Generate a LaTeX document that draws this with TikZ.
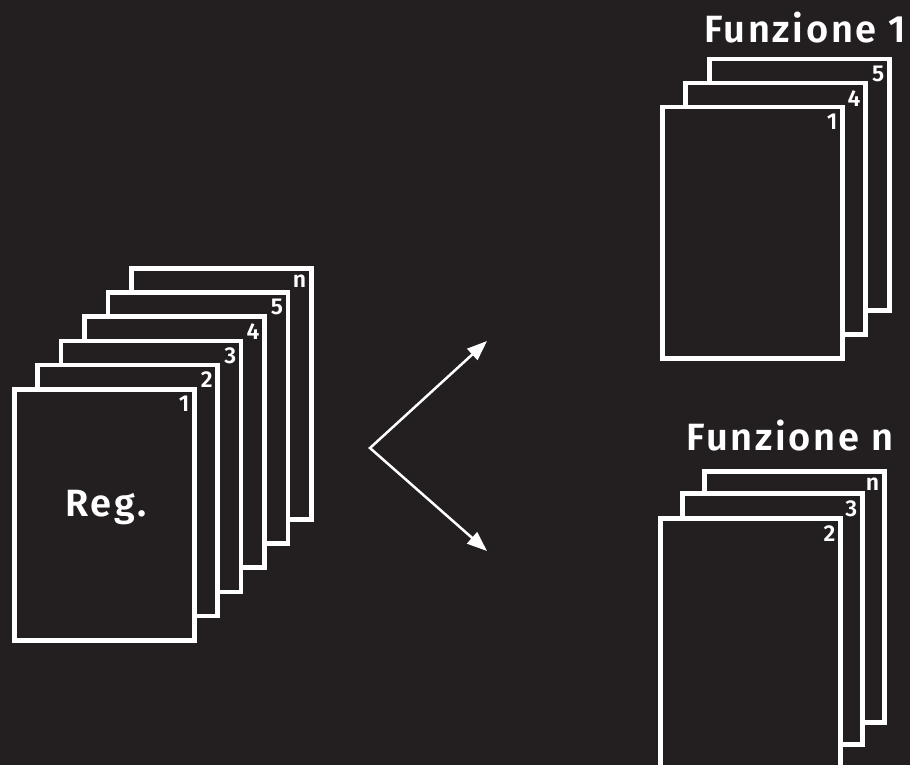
\documentclass[tikz,border=0pt]{standalone}
\usepackage{fontspec}
\setmainfont{Fira Sans}
\newfontfamily\titlefont{Fira Sans}[UprightFont=* SemiBold, LetterSpace=7]
\newfontfamily\numfont{Fira Sans}[UprightFont=* SemiBold]
\usetikzlibrary{arrows.meta}
\definecolor{bg}{HTML}{231F20}
\tikzset{
  sheet/.style={draw=white, fill=bg, line width=4.5pt, rectangle, inner sep=0pt,
    minimum width=180pt, minimum height=251pt, anchor=north west},
  num/.style={text=white, inner sep=0pt, anchor=north east,
    font=\numfont\fontsize{23}{23}\selectfont},
  title/.style={text=white, inner sep=0pt, anchor=base,
    font=\titlefont\fontsize{38}{38}\selectfont},
  link/.style={draw=white, line width=2.5pt, {Triangle[length=20pt,width=15pt]}-{Triangle[length=20pt,width=15pt]}}
}
\begin{document}
\begin{tikzpicture}[x=1pt,y=-1pt]
\fill[bg] (0,0) rectangle (910,765);
\useasboundingbox (0,0) rectangle (910,765);
% left stack
\node[sheet] (Ln) at (129,266) {};
\node[sheet] (L5) at (105.6,290.2) {};
\node[sheet] (L4) at (82.2,314.4) {};
\node[sheet] (L3) at (58.8,338.6) {};
\node[sheet] (L2) at (35.4,362.8) {};
\node[sheet] (L1) at (12,387) {};
\node[num] (Lnl) at ([xshift=-7pt,yshift=-9pt]Ln.north east) {n};
\node[num] (L5l) at ([xshift=-7pt,yshift=-9pt]L5.north east) {5};
\node[num] (L4l) at ([xshift=-7pt,yshift=-9pt]L4.north east) {4};
\node[num] (L3l) at ([xshift=-7pt,yshift=-9pt]L3.north east) {3};
\node[num] (L2l) at ([xshift=-7pt,yshift=-9pt]L2.north east) {2};
\node[num] (L1l) at ([xshift=-7pt,yshift=-9pt]L1.north east) {1};
\node[title] (reg) at (106,516) {Reg.};
% top right stack
\node[title] (f1) at (805,43) {Funzione 1};
\node[sheet] (R5) at (707,57) {};
\node[sheet] (R4) at (683,81) {};
\node[sheet] (R1) at (660,105) {};
\node[num] (R5l) at ([xshift=-7pt,yshift=-9pt]R5.north east) {5};
\node[num] (R4l) at ([xshift=-7pt,yshift=-9pt]R4.north east) {4};
\node[num] (R1l) at ([xshift=-7pt,yshift=-9pt]R1.north east) {1};
% bottom right stack
\node[title] (fn) at (790,450) {Funzione n};
\node[sheet] (Bn) at (702,469) {};
\node[sheet] (B3) at (680,491) {};
\node[sheet] (B2) at (658,516) {};
\node[num] (Bnl) at ([xshift=-7pt,yshift=-9pt]Bn.north east) {n};
\node[num] (B3l) at ([xshift=-7pt,yshift=-9pt]B3.north east) {3};
\node[num] (B2l) at ([xshift=-7pt,yshift=-9pt]B2.north east) {2};
% arrows
\coordinate (v) at (370,448);
\coordinate (t1) at (487,341);
\coordinate (t2) at (487,551);
\draw[link] (t1) -- (v) -- (t2);
\end{tikzpicture}
\end{document}
